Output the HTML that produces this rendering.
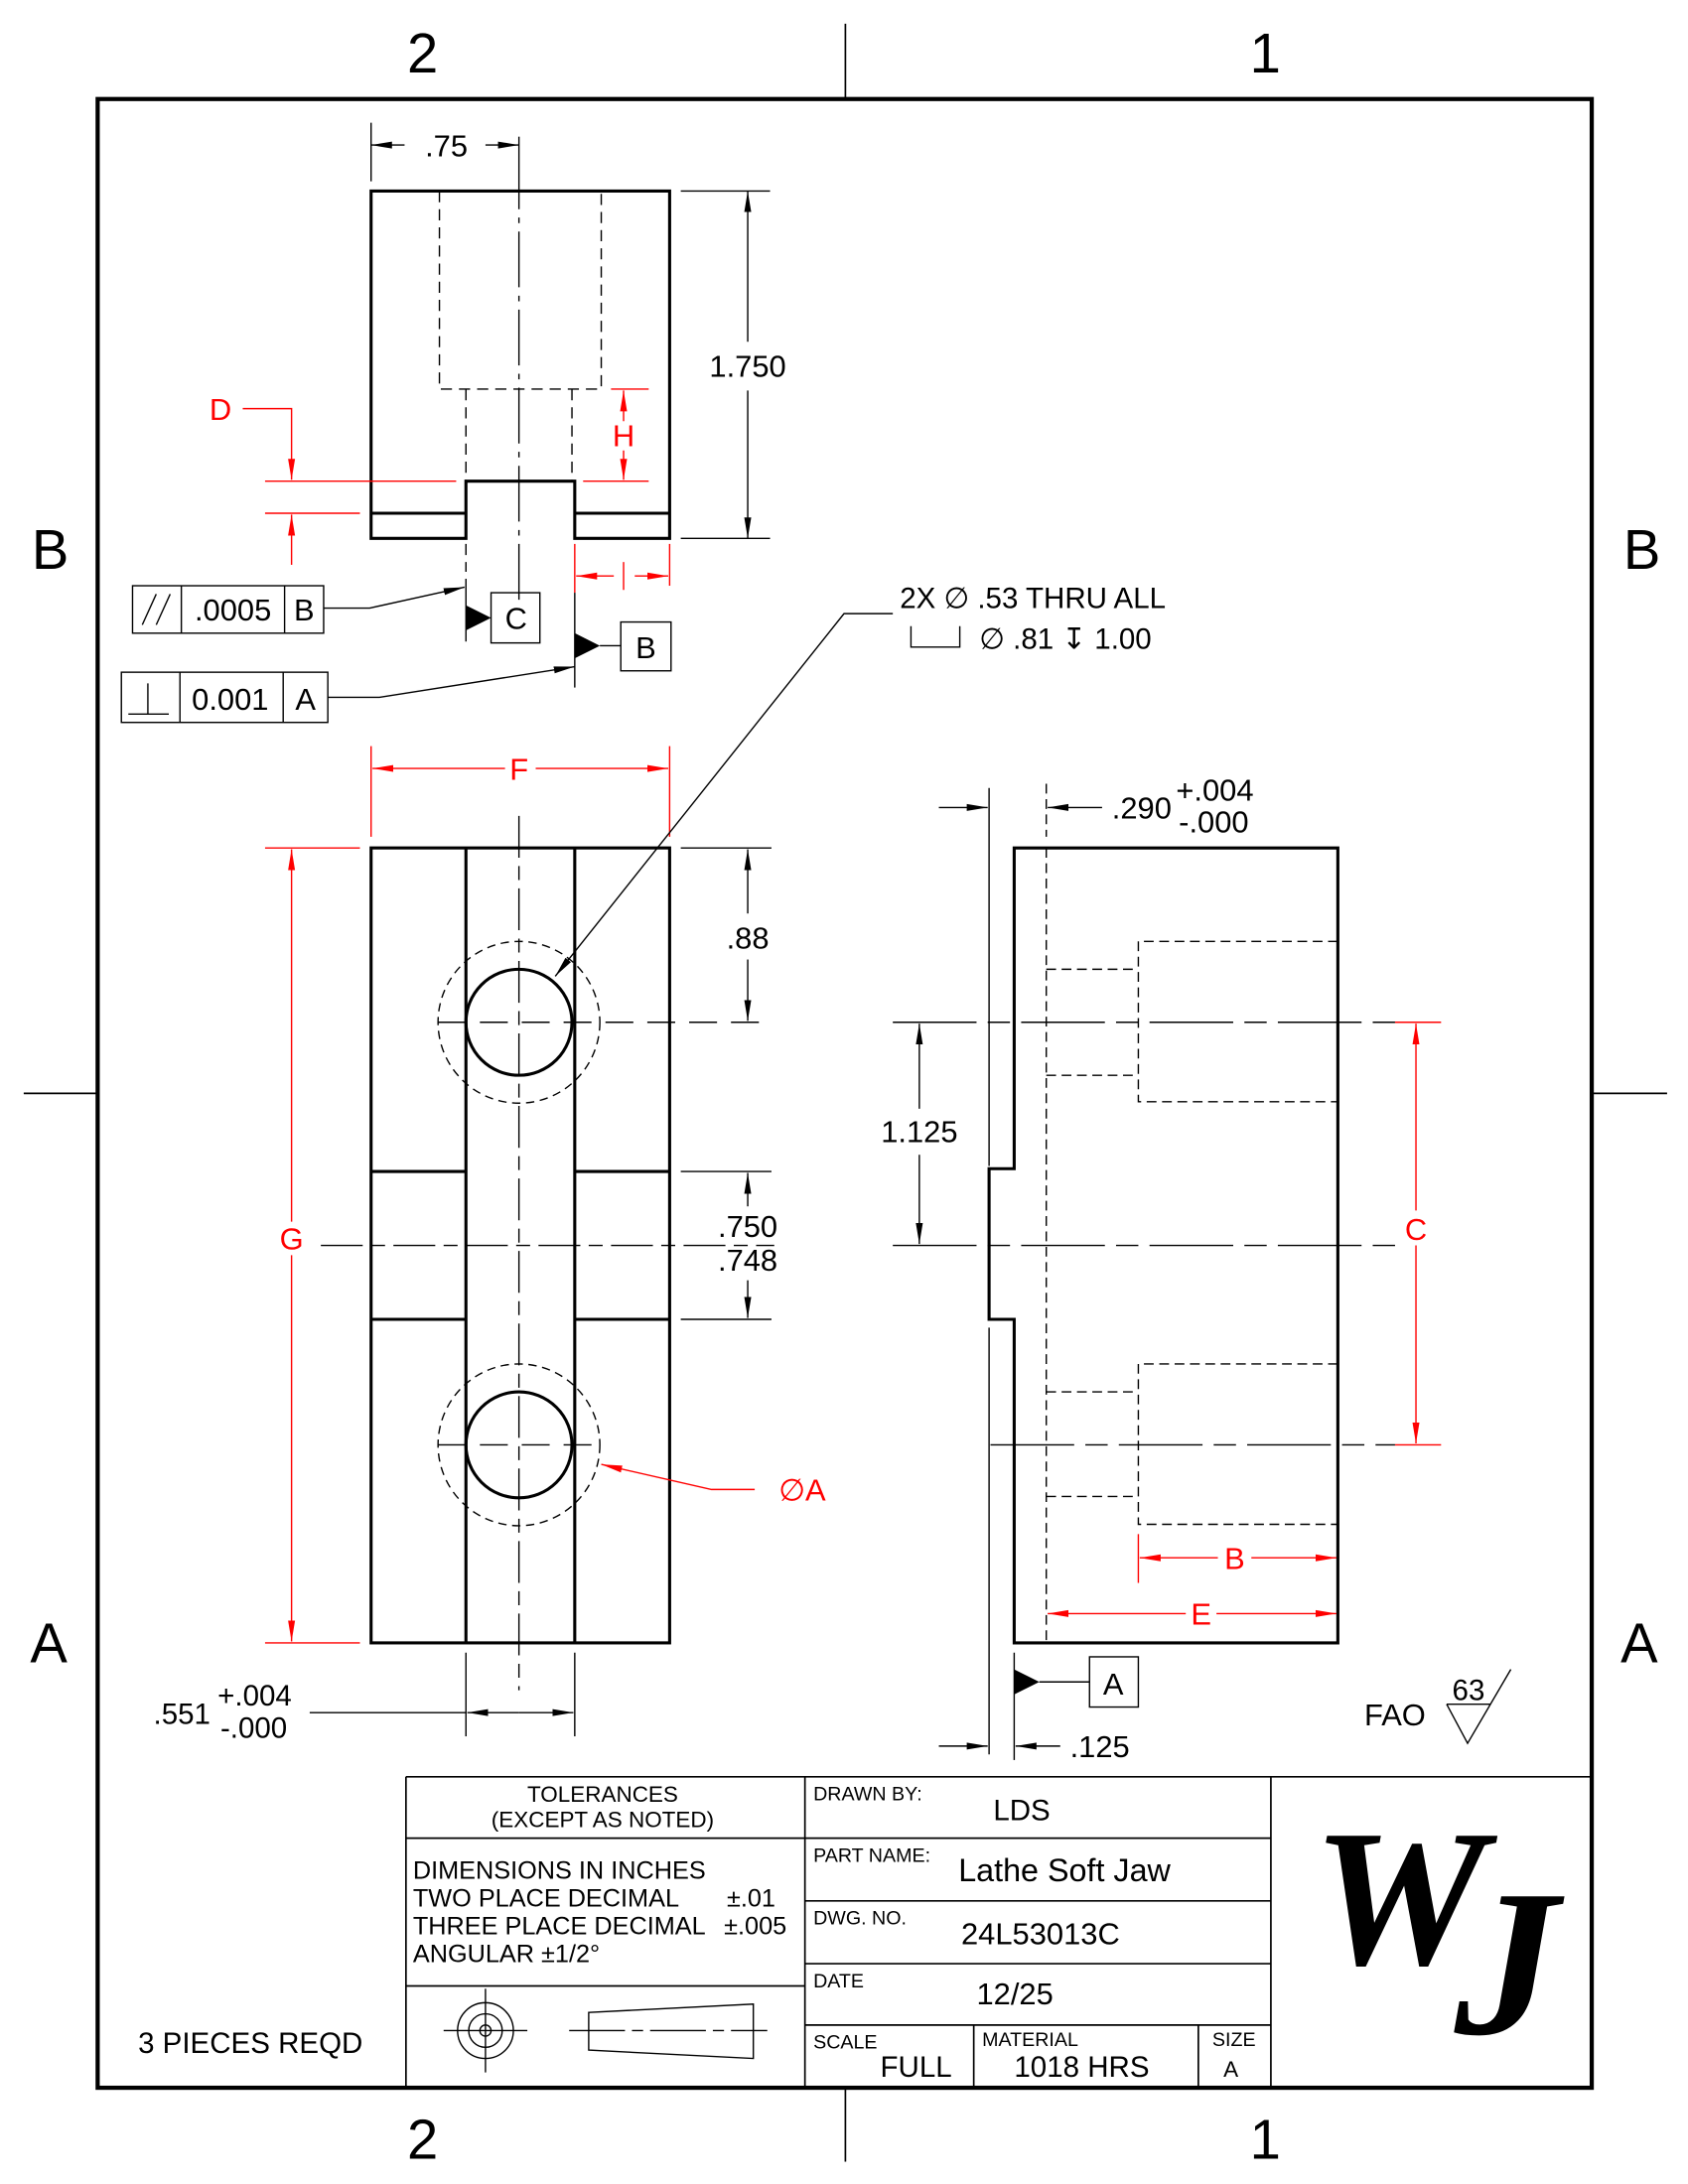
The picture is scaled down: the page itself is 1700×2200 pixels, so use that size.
<!DOCTYPE html>
<html><head><meta charset="utf-8"><style>
html,body{margin:0;padding:0;background:#fff;}
svg{display:block;}
text{font-family:"Liberation Sans","DejaVu Sans",sans-serif;}
</style></head><body>
<svg width="1700" height="2200" viewBox="0 0 1210 1566" preserveAspectRatio="none" xmlns="http://www.w3.org/2000/svg">
<defs>
<marker id="ak" markerUnits="userSpaceOnUse" markerWidth="16" markerHeight="8" refX="15" refY="4" orient="auto-start-reverse"><path d="M0,1.5 L15,4 L0,6.5 Z" fill="#000"/></marker>
<marker id="ar" markerUnits="userSpaceOnUse" markerWidth="16" markerHeight="8" refX="15" refY="4" orient="auto-start-reverse"><path d="M0,1.5 L15,4 L0,6.5 Z" fill="#f00"/></marker>
<clipPath id="lc"><rect x="912" y="1276" width="228" height="220"/></clipPath>
</defs>
<rect width="1210" height="1566" fill="#fff"/>
<rect x="70" y="71" width="1071" height="1426" fill="none" stroke="#000" stroke-width="3"/>
<g stroke="#000" stroke-width="1.2">
<line x1="606" y1="17" x2="606" y2="71"/><line x1="606" y1="1497" x2="606" y2="1550"/>
<line x1="17" y1="784" x2="70" y2="784"/><line x1="1141" y1="784" x2="1195" y2="784"/>
</g>
<g font-size="40" text-anchor="middle" fill="#000">
<text x="303" y="52">2</text><text x="907" y="52">1</text>
<text x="303" y="1548">2</text><text x="907" y="1548">1</text>
<text x="36" y="408">B</text><text x="1177" y="408">B</text>
<text x="35" y="1192">A</text><text x="1175" y="1192">A</text>
</g>

<g fill="none" stroke="#000" stroke-width="2.2">
<path d="M266,386 L266,137 L480,137 L480,386 L412,386 L412,345 L334,345 L334,386 Z"/>
<line x1="266" y1="368" x2="334" y2="368"/><line x1="412" y1="368" x2="480" y2="368"/>
</g>
<g fill="none" stroke="#000" stroke-width="1" stroke-dasharray="8,5">
<path d="M315,137 L315,279 L431,279 L431,137"/>
<line x1="334" y1="279" x2="334" y2="345"/><line x1="410" y1="279" x2="410" y2="345"/>
<line x1="334" y1="390" x2="334" y2="410"/>
</g>
<line x1="372" y1="110" x2="372" y2="432" stroke="#000" stroke-width="1" stroke-dasharray="40,6,4,6"/>
<g stroke="#000" stroke-width="1" fill="none">
<line x1="266" y1="88" x2="266" y2="130"/>
<line x1="290" y1="104" x2="266" y2="104" marker-end="url(#ak)"/>
<line x1="348" y1="104" x2="372" y2="104" marker-end="url(#ak)"/>
<line x1="372" y1="98" x2="372" y2="110"/>
<line x1="488" y1="137" x2="552" y2="137"/><line x1="488" y1="386" x2="552" y2="386"/>
<line x1="536" y1="245" x2="536" y2="137" marker-end="url(#ak)"/>
<line x1="536" y1="280" x2="536" y2="386" marker-end="url(#ak)"/>
</g>
<g font-size="22" fill="#000" text-anchor="middle">
<text x="320" y="112">.75</text>
<text x="536" y="270">1.750</text>
</g>
<g stroke="#f00" stroke-width="1" fill="none">
<path d="M174,293 L209,293 L209,344" marker-end="url(#ar)"/>
<line x1="190" y1="345" x2="327" y2="345"/>
<line x1="190" y1="368" x2="258" y2="368"/>
<line x1="209" y1="405" x2="209" y2="369" marker-end="url(#ar)"/>
<line x1="438" y1="279" x2="465" y2="279"/><line x1="418" y1="345" x2="465" y2="345"/>
<line x1="447" y1="302" x2="447" y2="280" marker-end="url(#ar)"/>
<line x1="447" y1="323" x2="447" y2="344" marker-end="url(#ar)"/>
<line x1="412" y1="390" x2="412" y2="425"/><line x1="480" y1="390" x2="480" y2="420"/>
<line x1="440" y1="413" x2="413" y2="413" marker-end="url(#ar)"/>
<line x1="455" y1="413" x2="479" y2="413" marker-end="url(#ar)"/>
<line x1="447" y1="403" x2="447" y2="423"/>
</g>
<g font-size="22" fill="#f00" text-anchor="middle">
<text x="158" y="301">D</text><text x="447" y="320">H</text>
</g>
<g stroke="#000" stroke-width="1" fill="none">
<rect x="95" y="420" width="137" height="34"/><line x1="130" y1="420" x2="130" y2="454"/><line x1="204" y1="420" x2="204" y2="454"/>
<rect x="87" y="482" width="148" height="36"/><line x1="129" y1="482" x2="129" y2="518"/><line x1="203" y1="482" x2="203" y2="518"/>
<line x1="102" y1="448" x2="112" y2="426"/><line x1="112" y1="448" x2="122" y2="426"/>
<line x1="92" y1="512" x2="121" y2="512"/><line x1="106" y1="512" x2="106" y2="490"/>
<path d="M232,436 L265,436 L333,421" marker-end="url(#ak)"/>
<path d="M235,500 L272,500 L412,478" marker-end="url(#ak)"/>
<line x1="334" y1="415" x2="334" y2="460"/>
<line x1="412" y1="425" x2="412" y2="493"/>
<rect x="352" y="425" width="35" height="36"/>
<rect x="445" y="446" width="36" height="35"/>
<line x1="430" y1="463" x2="445" y2="463"/>
</g>
<path d="M334,434 L352,443 L334,452 Z" fill="#000"/>
<path d="M412,454 L430,463 L412,472 Z" fill="#000"/>
<g font-size="22" fill="#000" text-anchor="middle">
<text x="167" y="445">.0005</text><text x="218" y="445">B</text>
<text x="165" y="509">0.001</text><text x="219" y="509">A</text>
<text x="370" y="451">C</text><text x="463" y="472">B</text>
</g>

<g fill="none" stroke="#000" stroke-width="2.2">
<rect x="266" y="608" width="214" height="570"/>
<line x1="334" y1="608" x2="334" y2="1178"/><line x1="412" y1="608" x2="412" y2="1178"/>
<line x1="266" y1="840" x2="334" y2="840"/><line x1="412" y1="840" x2="480" y2="840"/>
<line x1="266" y1="946" x2="334" y2="946"/><line x1="412" y1="946" x2="480" y2="946"/>
<circle cx="372" cy="733" r="38"/><circle cx="372" cy="1036" r="38"/>
</g>
<g fill="none" stroke="#000" stroke-width="1" stroke-dasharray="6,4">
<circle cx="372" cy="733" r="58"/><circle cx="372" cy="1036" r="58"/>
</g>
<g stroke="#000" stroke-width="1" stroke-dasharray="30,6,10,6">
<line x1="372" y1="585" x2="372" y2="1212"/>
<line x1="230" y1="893" x2="555" y2="893"/>
</g>
<g stroke="#000" stroke-width="1">
<line x1="314" y1="733" x2="553" y2="733" stroke-dasharray="20,10"/>
<line x1="314" y1="1036" x2="430" y2="1036" stroke-dasharray="20,10"/>
</g>
<g stroke="#f00" stroke-width="1" fill="none">
<line x1="266" y1="535" x2="266" y2="600"/><line x1="480" y1="535" x2="480" y2="600"/>
<line x1="362" y1="551" x2="267" y2="551" marker-end="url(#ar)"/>
<line x1="384" y1="551" x2="479" y2="551" marker-end="url(#ar)"/>
<line x1="190" y1="608" x2="258" y2="608"/><line x1="190" y1="1178" x2="258" y2="1178"/>
<line x1="209" y1="876" x2="209" y2="609" marker-end="url(#ar)"/>
<line x1="209" y1="900" x2="209" y2="1177" marker-end="url(#ar)"/>
<path d="M541,1068 L510,1068 L431,1050" marker-end="url(#ar)"/>
</g>
<g font-size="22" fill="#f00" text-anchor="middle">
<text x="372" y="559">F</text><text x="209" y="896">G</text>
<text x="575" y="1076">∅A</text>
</g>
<g stroke="#000" stroke-width="1" fill="none">
<line x1="488" y1="608" x2="553" y2="608"/>
<line x1="536" y1="655" x2="536" y2="609" marker-end="url(#ak)"/>
<line x1="536" y1="688" x2="536" y2="732" marker-end="url(#ak)"/>
<line x1="488" y1="840" x2="553" y2="840"/><line x1="488" y1="946" x2="553" y2="946"/>
<line x1="536" y1="865" x2="536" y2="841" marker-end="url(#ak)"/>
<line x1="536" y1="918" x2="536" y2="945" marker-end="url(#ak)"/>
<line x1="334" y1="1185" x2="334" y2="1245"/><line x1="412" y1="1185" x2="412" y2="1245"/>
<line x1="222" y1="1228" x2="334" y2="1228"/>
<line x1="372" y1="1228" x2="335" y2="1228" marker-end="url(#ak)"/>
<line x1="372" y1="1228" x2="411" y2="1228" marker-end="url(#ak)"/>
<path d="M640,440 L605,440 L398,700" marker-end="url(#ak)"/>
</g>
<g font-size="22" fill="#000" text-anchor="middle">
<text x="536" y="680">.88</text>
<text x="536" y="887">.750</text><text x="536" y="911">.748</text>
</g>
<g font-size="21" fill="#000">
<text x="110" y="1236">.551</text>
<text x="156" y="1223">+.004</text><text x="158" y="1246">-.000</text>
<text x="645" y="436">2X ∅ .53 THRU ALL</text>
<text x="702" y="465">∅ .81 ↧ 1.00</text>
</g>
<path d="M653,449 L653,464 L688,464 L688,449" fill="none" stroke="#000" stroke-width="1"/>

<g fill="none" stroke="#000" stroke-width="2.2">
<path d="M727,838 L727,608 L959,608 L959,1178 L727,1178 L727,946 L709,946 L709,838 Z"/>
</g>
<g stroke="#000" stroke-width="1" fill="none">
<line x1="709" y1="565" x2="709" y2="836"/><line x1="709" y1="952" x2="709" y2="1258"/>
<line x1="727" y1="1185" x2="727" y2="1262"/>
</g>
<g fill="none" stroke="#000" stroke-width="1" stroke-dasharray="7,4">
<line x1="750" y1="608" x2="750" y2="1178"/>
<path d="M959,675 L816,675 L816,790 L959,790"/>
<line x1="750" y1="695" x2="816" y2="695"/><line x1="750" y1="771" x2="816" y2="771"/>
<path d="M959,978 L816,978 L816,1093 L959,1093"/>
<line x1="750" y1="998" x2="816" y2="998"/><line x1="750" y1="1073" x2="816" y2="1073"/>
<line x1="750" y1="562" x2="750" y2="600"/>
</g>
<g stroke="#000" stroke-width="1" stroke-dasharray="60,8,16,8">
<line x1="640" y1="733" x2="1030" y2="733"/>
<line x1="640" y1="893" x2="1000" y2="893"/>
<line x1="710" y1="1036" x2="1000" y2="1036"/>
</g>
<g stroke="#000" stroke-width="1" fill="none">
<line x1="673" y1="579" x2="708" y2="579" marker-end="url(#ak)"/>
<line x1="790" y1="579" x2="751" y2="579" marker-end="url(#ak)"/>
<line x1="659" y1="795" x2="659" y2="734" marker-end="url(#ak)"/>
<line x1="659" y1="828" x2="659" y2="892" marker-end="url(#ak)"/>
<line x1="673" y1="1252" x2="708" y2="1252" marker-end="url(#ak)"/>
<line x1="760" y1="1252" x2="728" y2="1252" marker-end="url(#ak)"/>
<line x1="745" y1="1206" x2="781" y2="1206"/>
<rect x="781" y="1188" width="35" height="36"/>
</g>
<path d="M727,1197 L745,1206 L727,1215 Z" fill="#000"/>
<g font-size="22" fill="#000">
<text x="797" y="587">.290</text>
<text x="843" y="574">+.004</text><text x="845" y="597">-.000</text>
<text x="659" y="819" text-anchor="middle">1.125</text>
<text x="767" y="1260">.125</text>
<text x="798" y="1215" text-anchor="middle">A</text>
</g>
<g stroke="#f00" stroke-width="1" fill="none">
<line x1="1000" y1="733" x2="1033" y2="733"/><line x1="1000" y1="1036" x2="1033" y2="1036"/>
<line x1="1015" y1="868" x2="1015" y2="734" marker-end="url(#ar)"/>
<line x1="1015" y1="893" x2="1015" y2="1035" marker-end="url(#ar)"/>
<line x1="816" y1="1100" x2="816" y2="1135"/>
<line x1="873" y1="1117" x2="817" y2="1117" marker-end="url(#ar)"/>
<line x1="897" y1="1117" x2="958" y2="1117" marker-end="url(#ar)"/>
<line x1="850" y1="1157" x2="751" y2="1157" marker-end="url(#ar)"/>
<line x1="872" y1="1157" x2="958" y2="1157" marker-end="url(#ar)"/>
</g>
<g font-size="22" fill="#f00" text-anchor="middle">
<text x="1015" y="889">C</text><text x="885" y="1125">B</text><text x="861" y="1165">E</text>
</g>
<text x="978" y="1237" font-size="22" fill="#000">FAO</text>
<text x="1041" y="1219" font-size="21" fill="#000">63</text>
<path d="M1037,1222 L1068,1222 M1037,1222 L1052,1250 L1083,1197" fill="none" stroke="#000" stroke-width="1"/>

<g stroke="#000" stroke-width="1.2" fill="none">
<line x1="291" y1="1274" x2="1141" y2="1274"/>
<line x1="291" y1="1274" x2="291" y2="1497"/>
<line x1="577" y1="1274" x2="577" y2="1497"/>
<line x1="911" y1="1274" x2="911" y2="1497"/>
<line x1="291" y1="1318" x2="577" y2="1318"/>
<line x1="291" y1="1424" x2="577" y2="1424"/>
<line x1="577" y1="1318" x2="911" y2="1318"/>
<line x1="577" y1="1363" x2="911" y2="1363"/>
<line x1="577" y1="1408" x2="911" y2="1408"/>
<line x1="577" y1="1452" x2="911" y2="1452"/>
<line x1="698" y1="1452" x2="698" y2="1497"/>
<line x1="859" y1="1452" x2="859" y2="1497"/>
</g>
<g fill="none" stroke="#000" stroke-width="1">
<circle cx="348" cy="1456" r="20"/><circle cx="348" cy="1456" r="12"/><circle cx="348" cy="1456" r="4"/>
<line x1="318" y1="1456" x2="378" y2="1456"/><line x1="348" y1="1426" x2="348" y2="1486"/>
<path d="M422,1443 L540,1437 L540,1476 L422,1470 Z"/>
<line x1="408" y1="1456" x2="550" y2="1456" stroke-dasharray="40,5,8,5"/>
</g>
<g fill="#000" font-size="16">
<text x="432" y="1292" text-anchor="middle">TOLERANCES</text>
<text x="432" y="1310" text-anchor="middle">(EXCEPT AS NOTED)</text>
<text x="296" y="1347" font-size="18">DIMENSIONS IN INCHES</text>
<text x="296" y="1367" font-size="18">TWO PLACE DECIMAL</text>
<text x="296" y="1387" font-size="18">THREE PLACE DECIMAL</text>
<text x="296" y="1407" font-size="18">ANGULAR ±1/2°</text>
<text x="521" y="1367" font-size="18">±.01</text>
<text x="519" y="1387" font-size="18">±.005</text>
<text x="99" y="1472" font-size="21">3 PIECES REQD</text>
<text x="583" y="1291" font-size="14">DRAWN BY:</text>
<text x="583" y="1335" font-size="14">PART NAME:</text>
<text x="583" y="1380" font-size="14">DWG. NO.</text>
<text x="583" y="1425" font-size="14">DATE</text>
<text x="583" y="1469" font-size="14">SCALE</text>
<text x="704" y="1467" font-size="14">MATERIAL</text>
<text x="869" y="1467" font-size="14">SIZE</text>
<text x="712" y="1305" font-size="21">LDS</text>
<text x="687" y="1349" font-size="23">Lathe Soft Jaw</text>
<text x="689" y="1394" font-size="22">24L53013C</text>
<text x="700" y="1437" font-size="22">12/25</text>
<text x="631" y="1489" font-size="21">FULL</text>
<text x="727" y="1489" font-size="21">1018 HRS</text>
<text x="877" y="1489" font-size="16">A</text>
</g>
<g clip-path="url(#lc)" fill="#000">
<text x="1003" y="1408" font-size="140" text-anchor="middle" style="font-family:'Liberation Serif',serif;font-style:italic;font-weight:bold;">W</text>
<text x="1080" y="1458" font-size="150" text-anchor="middle" style="font-family:'Liberation Serif',serif;font-style:italic;font-weight:bold;">J</text>
</g>
</svg>
</body></html>
